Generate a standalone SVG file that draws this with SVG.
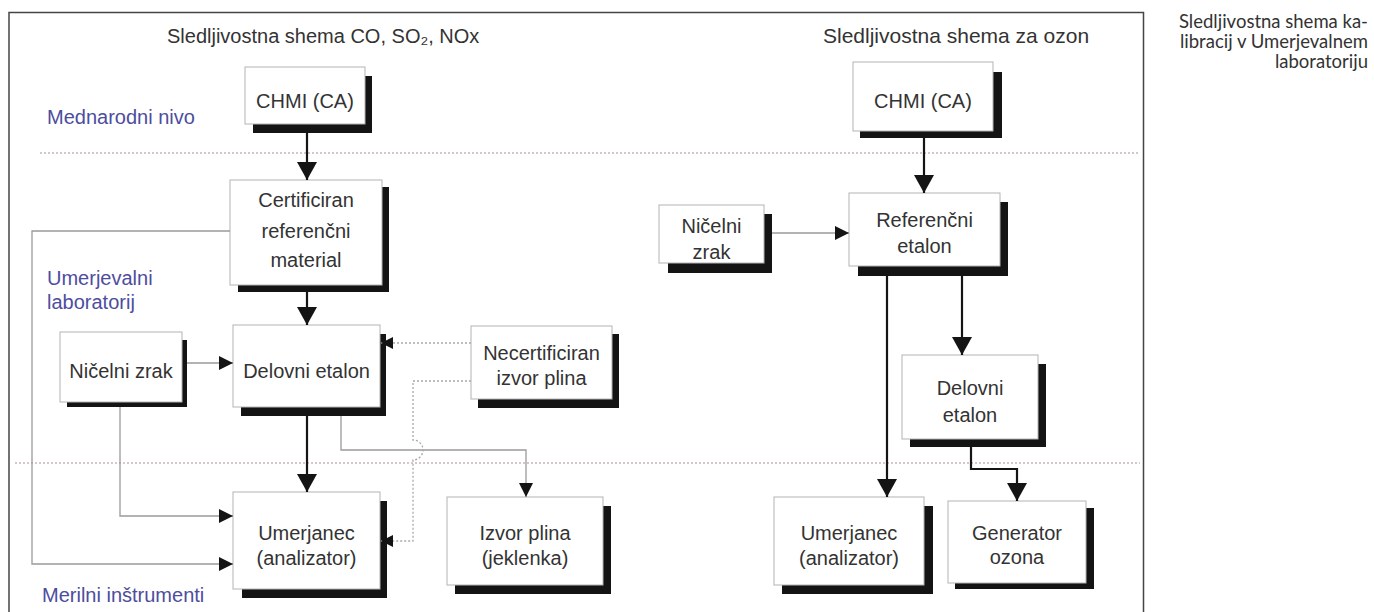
<svg xmlns="http://www.w3.org/2000/svg" width="1374" height="612" viewBox="0 0 1374 612">
<defs>
<style>
.frame{fill:none;stroke:#444;stroke-width:1.5}
.sep{fill:none;stroke:#c9b4c0;stroke-width:1.3;stroke-dasharray:2 2}
.box{fill:#fff;stroke:#b3b3b3;stroke-width:1}
.sh{fill:#141414}
.t{font-family:"Liberation Sans",Arial,sans-serif;font-size:20px;fill:#333;text-anchor:middle}
.title{font-family:"Liberation Sans",Arial,sans-serif;font-size:20px;fill:#333}
.lvl{font-family:"Liberation Sans",Arial,sans-serif;font-size:20px;fill:#4d4d9e}
.cap{font-family:Lato,"Open Sans",sans-serif;font-size:18.5px;fill:#333;text-anchor:end}
.thick{fill:none;stroke:#141414;stroke-width:2.2}
.thin{fill:none;stroke:#9a9a9a;stroke-width:1.3}
.dot{fill:none;stroke:#a8a8a8;stroke-width:1.3;stroke-dasharray:2 2}
</style>
<marker id="big" viewBox="0 0 18 20" markerWidth="18" markerHeight="20" refX="18" refY="10" orient="auto" markerUnits="userSpaceOnUse"><path d="M0,0 L18,10 L0,20 z" fill="#141414"/></marker>
<marker id="mid" viewBox="0 0 14 14" markerWidth="14" markerHeight="14" refX="14" refY="7" orient="auto" markerUnits="userSpaceOnUse"><path d="M0,0 L14,7 L0,14 z" fill="#141414"/></marker>
<marker id="sm" viewBox="0 0 12 12" markerWidth="12" markerHeight="12" refX="12" refY="6" orient="auto" markerUnits="userSpaceOnUse"><path d="M0,0 L12,6 L0,12 z" fill="#141414"/></marker>
</defs>
<rect width="1374" height="612" fill="#fff"/>
<path class="frame" d="M9,615 V12.5 H1143.5 V615"/>
<path class="sep" d="M40,153 H1140"/>
<path class="sep" d="M15,463 H1140"/>

<text class="title" x="167" y="43">Sledljivostna shema CO, SO₂, NOx</text>
<text class="title" x="823" y="43" style="font-size:21px">Sledljivostna shema za ozon</text>
<text class="lvl" x="47" y="124">Mednarodni nivo</text>
<text class="lvl" x="47" y="285">Umerjevalni</text>
<text class="lvl" x="47" y="309">laboratorij</text>
<text class="lvl" x="42" y="602">Merilni inštrumenti</text>

<text class="cap" x="1368" y="28">Sledljivostna shema ka-</text>
<text class="cap" x="1368" y="48">libracij v Umerjevalnem</text>
<text class="cap" x="1368" y="68">laboratoriju</text>

<g id="chmi-left">
<rect class="sh" x="253" y="76" width="119" height="57"/>
<rect class="box" x="245" y="67" width="120" height="57"/>
<text class="t" x="305" y="108">CHMI (CA)</text>
</g>
<g id="crm">
<rect class="sh" x="238" y="187" width="151" height="105"/>
<rect class="box" x="230" y="180" width="152" height="105"/>
<text class="t" x="306" y="207">Certificiran</text>
<text class="t" x="306" y="238">referenčni</text>
<text class="t" x="306" y="267">material</text>
</g>
<g id="nicelni-left">
<rect class="sh" x="67" y="340" width="120" height="67"/>
<rect class="box" x="60" y="332" width="122" height="70"/>
<text class="t" x="121" y="378">Ničelni zrak</text>
</g>
<g id="delovni-left">
<rect class="sh" x="241" y="334" width="145" height="82"/>
<rect class="box" x="233" y="325" width="147" height="82"/>
<text class="t" x="306.5" y="378">Delovni etalon</text>
</g>
<g id="necert">
<rect class="sh" x="478" y="334" width="141" height="74"/>
<rect class="box" x="471" y="326" width="141" height="73"/>
<text class="t" x="541.5" y="360">Necertificiran</text>
<text class="t" x="541.5" y="385">izvor plina</text>
</g>
<g id="umerjanec-left">
<rect class="sh" x="242" y="501" width="145" height="97"/>
<rect class="box" x="233" y="492" width="147" height="97"/>
<text class="t" x="306.5" y="540">Umerjanec</text>
<text class="t" x="306.5" y="565">(analizator)</text>
</g>
<g id="izvor">
<rect class="sh" x="455" y="506" width="156" height="88"/>
<rect class="box" x="447" y="497" width="156" height="88"/>
<text class="t" x="525" y="540">Izvor plina</text>
<text class="t" x="525" y="565">(jeklenka)</text>
</g>

<g id="chmi-right">
<rect class="sh" x="860" y="72" width="142" height="66"/>
<rect class="box" x="853" y="62" width="140" height="69"/>
<text class="t" x="923" y="108">CHMI (CA)</text>
</g>
<g id="nicelni-right">
<rect class="sh" x="668" y="214" width="104" height="59"/>
<rect class="box" x="659" y="205" width="105" height="58"/>
<text class="t" x="711.5" y="233">Ničelni</text>
<text class="t" x="711.5" y="259">zrak</text>
</g>
<g id="referencni">
<rect class="sh" x="858" y="202" width="150" height="74"/>
<rect class="box" x="849" y="193" width="151" height="73"/>
<text class="t" x="924.5" y="227">Referenčni</text>
<text class="t" x="924.5" y="253">etalon</text>
</g>
<g id="delovni-right">
<rect class="sh" x="910" y="364" width="136" height="83"/>
<rect class="box" x="902" y="355" width="136" height="84"/>
<text class="t" x="970" y="395">Delovni</text>
<text class="t" x="970" y="422">etalon</text>
</g>
<g id="umerjanec-right">
<rect class="sh" x="782" y="506" width="151" height="88"/>
<rect class="box" x="774" y="497" width="150" height="88"/>
<text class="t" x="849" y="540">Umerjanec</text>
<text class="t" x="849" y="565">(analizator)</text>
</g>
<g id="generator">
<rect class="sh" x="955" y="508" width="139" height="81"/>
<rect class="box" x="948" y="501" width="138" height="82"/>
<text class="t" x="1017" y="540">Generator</text>
<text class="t" x="1017" y="564">ozona</text>
</g>

<g id="connectors">
<path class="thick" d="M307,133 V180" marker-end="url(#big)"/>
<path class="thick" d="M307,292 V325" marker-end="url(#big)"/>
<path class="thick" d="M307,416 V492" marker-end="url(#big)"/>
<path class="thin" d="M187,363 H233" marker-end="url(#mid)"/>
<path class="thin" d="M230,231 H32 V564 H233" marker-end="url(#mid)"/>
<path class="thin" d="M120,407 V516 H233" marker-end="url(#mid)"/>
<path class="thin" d="M341,416 V450 H526 V497" marker-end="url(#mid)"/>
<path class="dot" d="M471,343 H381" marker-end="url(#sm)"/>
<path class="dot" d="M471,381 H413 V440 A10,10 0 0 1 413,460 V541 H381" marker-end="url(#sm)"/>
<path class="thick" d="M924,138 V193" marker-end="url(#big)"/>
<path class="thin" d="M772,233 H849" marker-end="url(#mid)"/>
<path class="thick" d="M887,276 V497" marker-end="url(#big)"/>
<path class="thick" d="M962,276 V355" marker-end="url(#big)"/>
<path class="thick" d="M971,447 V469 H1017 V501" marker-end="url(#big)"/>
</g>
</svg>
